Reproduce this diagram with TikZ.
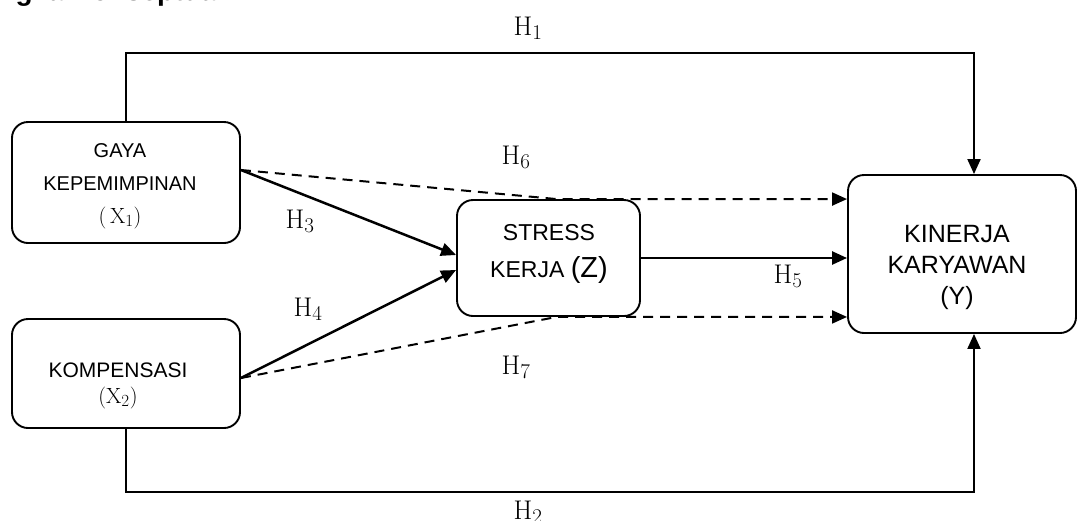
\RequirePackage{fix-cm}
\documentclass[tikz,border=0pt]{standalone}
\usepackage[no-math]{fontspec}
\setmainfont{Liberation Sans}
\usetikzlibrary{arrows.meta}
\DeclareMathSizes{27}{27}{21}{16}
\DeclareMathSizes{22}{22}{17}{13}
\begin{document}
\begin{tikzpicture}[x=1pt,y=-1pt,
  box/.style={draw, line width=1.9pt, rounded corners=16pt, inner sep=0pt},
  boxtext/.style={align=center, inner sep=0pt},
  hyp/.style={inner sep=0pt, font=\fontsize{27}{30}\selectfont},
  solidarr/.style={line width=2.5pt, -{Triangle[length=15pt,width=13pt]}},
  linearr/.style={line width=2pt, -{Triangle[length=15pt,width=13pt]}},
  dasharr/.style={line width=2pt, dash pattern=on 10pt off 7pt, -{Triangle[length=15pt,width=13pt]}}]
\useasboundingbox (0,0) rectangle (1078,520);

% clipped title
\begin{scope}
  \clip (0,0) rectangle (1078,520);
  \node[anchor=base west, inner sep=0pt, font=\fontsize{28}{34}\selectfont\bfseries] (title) at (-64,0) {Kerangka Konseptual};
\end{scope}

% boxes
\node[box, minimum width=228pt, minimum height=121pt] (X1) at (126,182.5) {};
\node[box, minimum width=228pt, minimum height=109pt] (X2) at (126,373.5) {};
\node[box, minimum width=183pt, minimum height=116pt] (Z) at (548.5,258) {};
\node[box, minimum width=228pt, minimum height=158pt] (Y) at (962,254) {};

% box texts
\node[boxtext, font=\fontsize{20}{33}\selectfont] (X1t) at (120,186)
  {GAYA\\KEPEMIMPINAN\\{\fontsize{22}{30}\selectfont$(\,\mathrm{X}_1)$}};
\node[boxtext, font=\fontsize{21}{26}\selectfont] (X2t) at (118,386)
  {KOMPENSASI\\{\fontsize{22}{26}\selectfont$(\mathrm{X}_2)$}};
\node[boxtext, font=\fontsize{23}{37}\selectfont] (Zt) at (549,254)
  {STRESS\\KERJA {\fontsize{29}{37}\selectfont(Z)}};
\node[boxtext, font=\fontsize{25}{31}\selectfont] (Yt) at (957,267)
  {KINERJA\\KARYAWAN\\(Y)};

% anchor points
\coordinate (t2) at (974,53);
\coordinate (b2) at (974,492);
\coordinate (X1a) at ([yshift=12.5pt]X1.east);
\coordinate (X2a) at ([yshift=-4.5pt]X2.east);
\coordinate (Zn) at ([xshift=8pt]Z.north);
\coordinate (Zs) at ([xshift=8pt]Z.south);

% connectors
\draw[linearr] (X1.north) |- (t2) -- (Y.north -| t2);
\draw[linearr] (X2.south) |- (b2) -- (Y.south -| b2);
\draw[solidarr] (X1a) -- ([yshift=3pt]Z.west);
\draw[solidarr] (X2a) -- ([yshift=-12pt]Z.west);
\draw[solidarr] (Z.east) -- (Z.east -| Y.west);
\draw[dasharr] (X1a) -- (Zn) -- (Zn -| Y.west);
\draw[dasharr] (X2a) -- (Zs) -- (Zs -| Y.west);

% hypothesis labels
\node[hyp] (H1) at (528,28) {$\mathrm{H}_1$};
\node[hyp] (H2) at (528,512) {$\mathrm{H}_2$};
\node[hyp] (H3) at (300,221) {$\mathrm{H}_3$};
\node[hyp] (H4) at (308,309) {$\mathrm{H}_4$};
\node[hyp] (H5) at (788,276) {$\mathrm{H}_5$};
\node[hyp] (H6) at (516,157) {$\mathrm{H}_6$};
\node[hyp] (H7) at (516,367) {$\mathrm{H}_7$};
\end{tikzpicture}
\end{document}
